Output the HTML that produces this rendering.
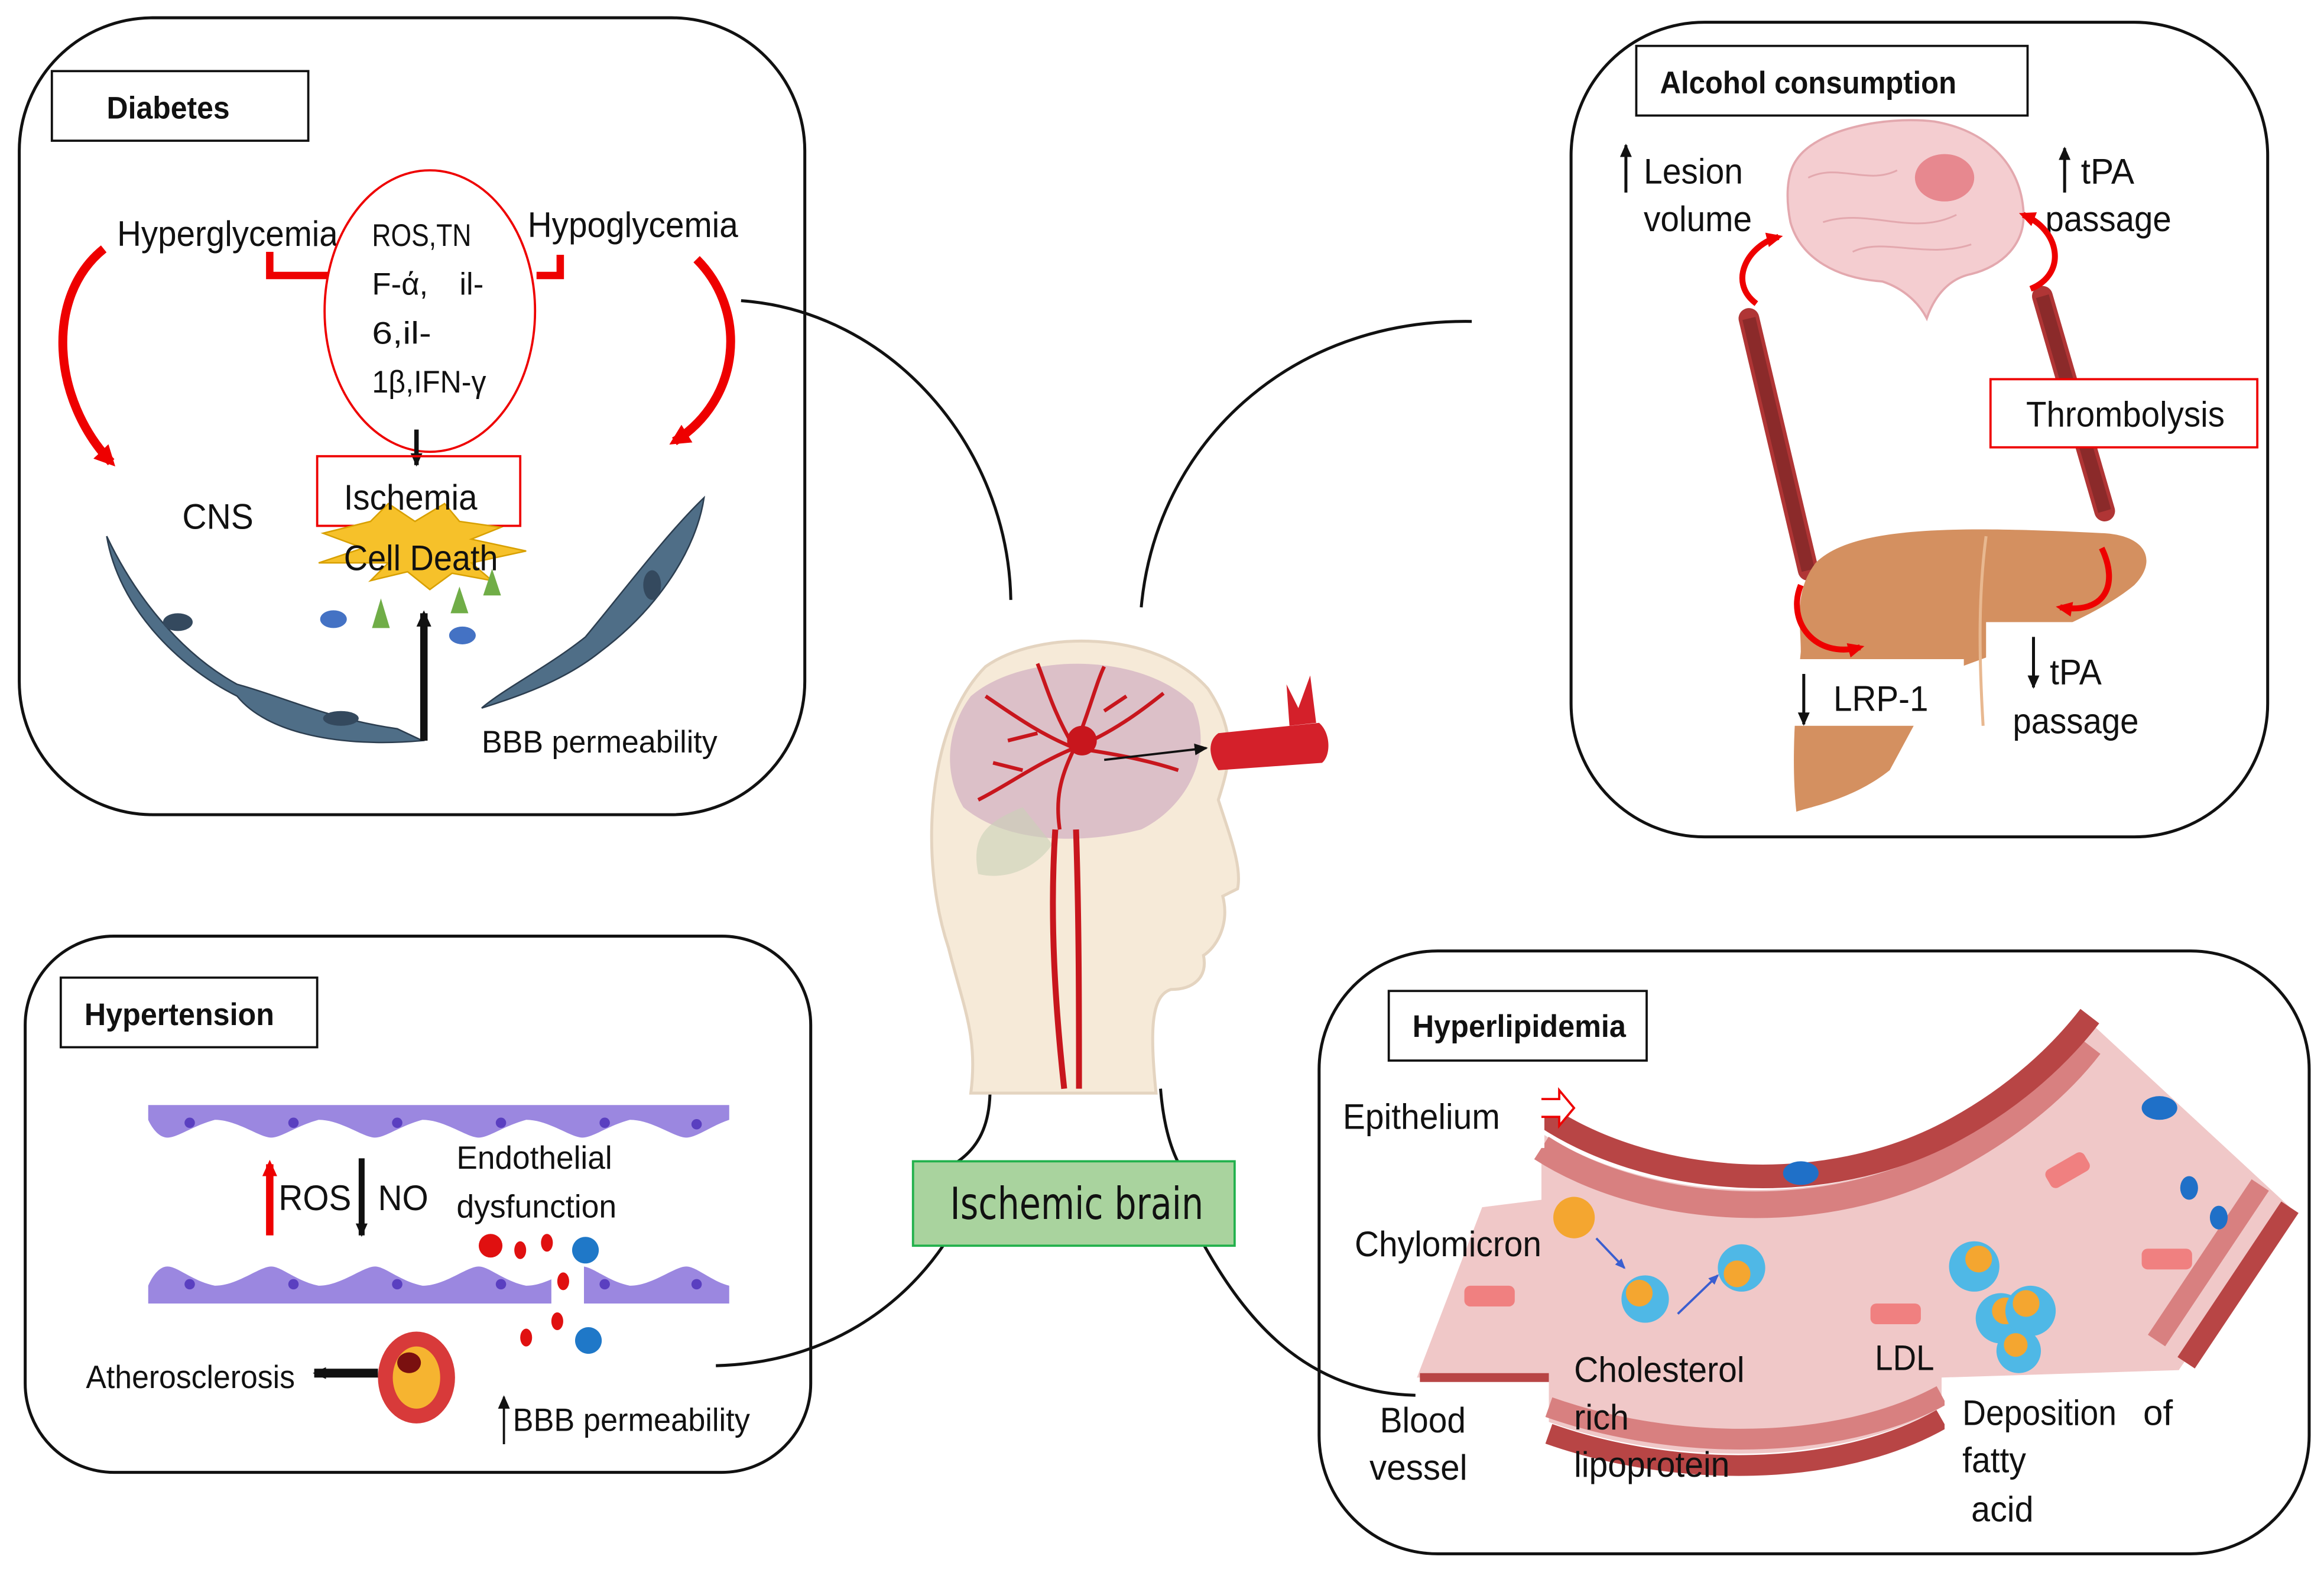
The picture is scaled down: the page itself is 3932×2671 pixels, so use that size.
<!DOCTYPE html>
<html><head><meta charset="utf-8"><style>
html,body{margin:0;padding:0;background:#fff}
svg{display:block}
text{font-family:"Liberation Sans",sans-serif;fill:#111}
.b{font-weight:bold}
</style></head><body>
<svg width="3932" height="2671" viewBox="0 0 1568 1066" preserveAspectRatio="none" xmlns="http://www.w3.org/2000/svg">
<defs>
<marker id="ah" markerUnits="userSpaceOnUse" markerWidth="10" markerHeight="10" refX="8" refY="5" orient="auto"><path d="M0,1 L9,5 L0,9z" fill="#111"/></marker>
<marker id="ahL" markerUnits="userSpaceOnUse" markerWidth="12" markerHeight="12" refX="9" refY="6" orient="auto"><path d="M0,1 L11,6 L0,11z" fill="#111"/></marker>
<marker id="rh" markerUnits="userSpaceOnUse" markerWidth="16" markerHeight="16" refX="10" refY="8" orient="auto"><path d="M0,1 L14,8 L0,15z" fill="#e00"/></marker>
<marker id="rs" markerUnits="userSpaceOnUse" markerWidth="12" markerHeight="12" refX="8" refY="6" orient="auto"><path d="M0,1 L11,6 L0,11z" fill="#e00"/></marker>
<marker id="bh" markerUnits="userSpaceOnUse" markerWidth="8" markerHeight="8" refX="6" refY="4" orient="auto"><path d="M0,1 L7,4 L0,7z" fill="#3a5ed0"/></marker>
</defs>

<!-- connectors -->
<g fill="none" stroke="#111" stroke-width="2">
<path d="M500,203 C600,210 680,300 682,405"/>
<path d="M770,410 C780,300 870,215 993,217"/>
<path d="M668,735 C668,760 660,775 645,785"/>
<path d="M783,735 C785,760 790,775 795,785"/>
<path d="M483,922 C560,920 610,880 637,840"/>
<path d="M812,840 C840,890 880,940 955,942"/>
</g>

<!-- panels -->
<g fill="none" stroke="#111" stroke-width="2">
<rect x="13" y="12" width="530" height="538" rx="90"/>
<rect x="1060" y="15" width="470" height="550" rx="90"/>
<rect x="17" y="632" width="530" height="362" rx="60"/>
<rect x="890" y="642" width="668" height="407" rx="80"/>
</g>

<!-- ===== Diabetes ===== -->
<rect x="35" y="48" width="173" height="47" fill="#fff" stroke="#111" stroke-width="1.5"/>
<text x="72" y="80" class="b" font-size="21" textLength="83" lengthAdjust="spacingAndGlyphs">Diabetes</text>
<text x="79" y="166" font-size="24" textLength="149" lengthAdjust="spacingAndGlyphs">Hyperglycemia</text>
<text x="356" y="160" font-size="24" textLength="142" lengthAdjust="spacingAndGlyphs">Hypoglycemia</text>
<path d="M182,170 L182,186 L222,186" fill="none" stroke="#e00" stroke-width="5"/>
<path d="M378,172 L378,186 L362,186" fill="none" stroke="#e00" stroke-width="5"/>
<ellipse cx="290" cy="210" rx="71" ry="95" fill="#fff" stroke="#e00" stroke-width="1.5"/>
<text x="251" y="166" font-size="21" textLength="67" lengthAdjust="spacingAndGlyphs">ROS,TN</text>
<text x="251" y="199" font-size="21">F-ά,</text>
<text x="310" y="199" font-size="21">il-</text>
<text x="251" y="232" font-size="21" textLength="40" lengthAdjust="spacingAndGlyphs">6,il-</text>
<text x="251" y="265" font-size="21" textLength="77" lengthAdjust="spacingAndGlyphs">1β,IFN-γ</text>
<path d="M70,168 C30,200 35,270 75,312" fill="none" stroke="#e00" stroke-width="6" marker-end="url(#rh)"/>
<path d="M470,175 C505,210 500,270 455,298" fill="none" stroke="#e00" stroke-width="6" marker-end="url(#rh)"/>
<line x1="281" y1="290" x2="281" y2="314" stroke="#111" stroke-width="3" marker-end="url(#ah)"/>
<!-- endothelial cells -->
<path d="M72,362 C90,400 120,440 160,462 C190,470 220,485 268,492 L285,500 C230,505 180,495 160,470 C120,450 80,410 72,362z" fill="#4f6e87" stroke="#2c3e50" stroke-width="1"/>
<path d="M475,336 C470,370 445,410 405,440 C380,460 350,470 325,478 C340,465 370,450 395,430 C420,400 450,360 475,336z" fill="#4f6e87" stroke="#2c3e50" stroke-width="1"/>
<ellipse cx="120" cy="420" rx="10" ry="6" fill="#34495e"/>
<ellipse cx="230" cy="485" rx="12" ry="5" fill="#34495e"/>
<ellipse cx="440" cy="395" rx="6" ry="10" fill="#34495e"/>
<text x="123" y="357" font-size="24" textLength="48" lengthAdjust="spacingAndGlyphs">CNS</text>
<rect x="214" y="308" width="137" height="47" fill="none" stroke="#e00" stroke-width="1.5"/>
<path d="M218,360 L250,352 L262,340 L280,352 L300,340 L310,352 L338,356 L318,364 L355,372 L318,380 L332,392 L305,387 L290,398 L275,386 L250,392 L262,380 L215,380 L245,370z" fill="#f6c12a" stroke="#d8a000" stroke-width="1"/>
<text x="232" y="344" font-size="24" textLength="90" lengthAdjust="spacingAndGlyphs">Ischemia</text>
<text x="232" y="385" font-size="24" textLength="104" lengthAdjust="spacingAndGlyphs">Cell Death</text>
<ellipse cx="225" cy="418" rx="9" ry="6" fill="#4472c4"/>
<ellipse cx="312" cy="429" rx="9" ry="6" fill="#4472c4"/>
<path d="M251,424 L257,404 L263,424z" fill="#70ad47"/>
<path d="M304,414 L310,396 L316,414z" fill="#70ad47"/>
<path d="M326,402 L332,384 L338,402z" fill="#70ad47"/>
<line x1="286" y1="500" x2="286" y2="414" stroke="#111" stroke-width="5" marker-end="url(#ahL)"/>
<text x="325" y="508" font-size="21" textLength="159" lengthAdjust="spacingAndGlyphs">BBB permeability</text>

<!-- ===== Alcohol ===== -->
<rect x="1104" y="31" width="264" height="47" fill="#fff" stroke="#111" stroke-width="1.5"/>
<text x="1120" y="63" class="b" font-size="21" textLength="200" lengthAdjust="spacingAndGlyphs">Alcohol consumption</text>
<line x1="1097" y1="130" x2="1097" y2="98" stroke="#111" stroke-width="2" marker-end="url(#ah)"/>
<text x="1109" y="124" font-size="24" textLength="67" lengthAdjust="spacingAndGlyphs">Lesion</text>
<text x="1109" y="156" font-size="24" textLength="73" lengthAdjust="spacingAndGlyphs">volume</text>
<line x1="1393" y1="130" x2="1393" y2="100" stroke="#111" stroke-width="2" marker-end="url(#ah)"/>
<text x="1404" y="124" font-size="24" textLength="36" lengthAdjust="spacingAndGlyphs">tPA</text>
<text x="1380" y="156" font-size="24" textLength="85" lengthAdjust="spacingAndGlyphs">passage</text>
<!-- brain -->
<path d="M1212,108 C1225,88 1270,78 1305,82 C1340,88 1362,110 1365,140 C1368,165 1350,180 1330,185 C1315,188 1305,200 1300,215 C1295,205 1285,195 1270,190 C1240,188 1215,175 1208,150 C1205,135 1205,118 1212,108z" fill="#f4cdd0" stroke="#e3a8ae" stroke-width="1.5"/>
<path d="M1220,120 C1240,110 1260,125 1280,115 M1230,150 C1260,140 1290,160 1320,145 M1250,170 C1270,160 1300,175 1330,165" fill="none" stroke="#e3a8ae" stroke-width="1.2"/>
<ellipse cx="1312" cy="120" rx="20" ry="16" fill="#d9444e" opacity="0.5"/>
<!-- vessels -->
<path d="M1180,215 L1220,385" stroke="#b03535" stroke-width="14" stroke-linecap="round"/>
<path d="M1180,215 L1220,385" stroke="#8b2a2a" stroke-width="9"/>
<path d="M1378,200 L1420,345" stroke="#b03535" stroke-width="14" stroke-linecap="round"/>
<path d="M1378,200 L1420,345" stroke="#8b2a2a" stroke-width="9"/>
<path d="M1185,205 C1165,190 1180,165 1200,160" fill="none" stroke="#e00" stroke-width="4" marker-end="url(#rs)"/>
<path d="M1370,195 C1395,185 1390,155 1365,145" fill="none" stroke="#e00" stroke-width="4" marker-end="url(#rs)"/>
<!-- liver -->
<path d="M1225,380 C1250,355 1320,355 1420,360 C1450,362 1455,380 1440,395 C1410,420 1350,440 1310,455 L1275,520 C1250,540 1220,545 1212,548 C1208,510 1212,470 1215,440 C1215,420 1210,400 1225,380z" fill="#d49060"/>
<path d="M1340,362 C1335,400 1335,440 1338,490" fill="none" stroke="#e8b890" stroke-width="2"/>
<rect x="1200" y="445" width="125" height="45" fill="#fff"/>
<rect x="1340" y="420" width="120" height="85" fill="#fff"/>
<path d="M1215,395 C1205,420 1225,445 1255,437" fill="none" stroke="#e00" stroke-width="4" marker-end="url(#rs)"/>
<path d="M1418,370 C1430,395 1420,415 1390,410" fill="none" stroke="#e00" stroke-width="4" marker-end="url(#rs)"/>
<rect x="1343" y="256" width="180" height="46" fill="#fff" stroke="#e00" stroke-width="1.5"/>
<text x="1367" y="288" font-size="24" textLength="134" lengthAdjust="spacingAndGlyphs">Thrombolysis</text>
<line x1="1217" y1="455" x2="1217" y2="489" stroke="#111" stroke-width="2" marker-end="url(#ah)"/>
<text x="1237" y="480" font-size="24" textLength="64" lengthAdjust="spacingAndGlyphs">LRP-1</text>
<line x1="1372" y1="430" x2="1372" y2="464" stroke="#111" stroke-width="2" marker-end="url(#ah)"/>
<text x="1383" y="462" font-size="24" textLength="35" lengthAdjust="spacingAndGlyphs">tPA</text>
<text x="1358" y="495" font-size="24" textLength="85" lengthAdjust="spacingAndGlyphs">passage</text>

<!-- ===== Center head ===== -->
<path d="M665,450 C700,425 780,425 815,465 C835,495 830,515 822,540 C830,565 838,585 835,600 L825,605 C830,625 820,640 812,645 C815,660 805,668 790,668 C778,672 775,690 780,738 L655,738 C660,700 650,680 640,640 C620,580 625,490 665,450z" fill="#f6ead8" stroke="#e4d4c0" stroke-width="2"/>
<path d="M655,470 C690,440 770,440 805,475 C820,510 800,545 770,560 C730,570 680,570 650,545 C635,520 640,490 655,470z" fill="#dcc0c8"/>
<path d="M690,545 C665,555 655,565 660,590 C680,595 700,585 710,570z" fill="#c9d0b8" opacity="0.6"/>
<g stroke="#c8161d" stroke-width="2.5" fill="none">
<path d="M725,505 C700,495 680,480 665,470 M725,505 C710,480 705,460 700,448 M725,505 C735,480 740,460 745,450 M725,505 C750,495 770,480 785,468 M725,505 C760,510 780,515 795,520 M725,505 C700,515 680,530 660,540 M725,505 C715,525 712,540 715,560 M700,495 L680,500 M745,480 L760,470 M690,520 L670,515"/>
</g>
<path d="M712,560 C708,620 712,680 718,735 M726,560 C728,620 728,680 728,735" stroke="#c8161d" stroke-width="4" fill="none"/>
<circle cx="730" cy="500" r="10" fill="#c8161d"/>
<path d="M822,495 L890,488 C898,495 898,510 892,515 L822,520 C815,510 815,500 822,495z" fill="#d4202a"/>
<path d="M870,490 L868,462 L876,478 L884,456 L888,488z" fill="#d4202a"/>
<line x1="745" y1="513" x2="814" y2="505" stroke="#111" stroke-width="1.5" marker-end="url(#ah)"/>
<rect x="616" y="784" width="217" height="57" fill="#a9d39e" stroke="#22b14c" stroke-width="1.5"/>
<text x="641" y="823" font-size="30" textLength="171" lengthAdjust="spacingAndGlyphs" style="font-family:'DejaVu Sans','Liberation Sans',sans-serif">Ischemic brain</text>

<!-- ===== Hypertension ===== -->
<rect x="41" y="660" width="173" height="47" fill="#fff" stroke="#111" stroke-width="1.5"/>
<text x="57" y="692" class="b" font-size="21" textLength="128" lengthAdjust="spacingAndGlyphs">Hypertension</text>
<path d="M100,746 L492,746 L492,756 C480,760 470,768 463,768 C455,768 440,756 425,756 C410,760 400,768 393,768 C385,768 370,756 355,756 C340,760 330,768 323,768 C315,768 300,756 285,756 C270,760 260,768 253,768 C245,768 230,756 215,756 C200,760 190,768 183,768 C175,768 160,756 145,756 C130,760 120,768 113,768 C105,768 100,756 100,756z" fill="#9b87e0"/>
<path d="M100,880 L492,880 L492,868 C480,865 470,855 463,855 C455,855 440,868 425,868 C410,865 400,855 393,855 C385,855 370,868 355,868 C340,865 330,855 323,855 C315,855 300,868 285,868 C270,865 260,855 253,855 C245,855 230,868 215,868 C200,865 190,855 183,855 C175,855 160,868 145,868 C130,865 120,855 113,855 C105,855 100,868 100,868z" fill="#9b87e0"/>
<g fill="#5a3fc0"><circle cx="128" cy="758" r="3.5"/><circle cx="198" cy="758" r="3.5"/><circle cx="268" cy="758" r="3.5"/><circle cx="338" cy="758" r="3.5"/><circle cx="408" cy="758" r="3.5"/><circle cx="470" cy="759" r="3.5"/>
<circle cx="128" cy="867" r="3.5"/><circle cx="198" cy="867" r="3.5"/><circle cx="268" cy="867" r="3.5"/><circle cx="338" cy="867" r="3.5"/><circle cx="408" cy="867" r="3.5"/><circle cx="470" cy="867" r="3.5"/></g>
<rect x="372" y="855" width="22" height="30" fill="#fff"/>
<line x1="182" y1="834" x2="182" y2="786" stroke="#e00" stroke-width="5" marker-end="url(#rs)"/>
<line x1="244" y1="782" x2="244" y2="834" stroke="#111" stroke-width="4" marker-end="url(#ah)"/>
<text x="188" y="817" font-size="24" textLength="49" lengthAdjust="spacingAndGlyphs">ROS</text>
<text x="255" y="817" font-size="24" textLength="34" lengthAdjust="spacingAndGlyphs">NO</text>
<text x="308" y="789" font-size="22" textLength="105" lengthAdjust="spacingAndGlyphs">Endothelial</text>
<text x="308" y="822" font-size="22" textLength="108" lengthAdjust="spacingAndGlyphs">dysfunction</text>
<circle cx="331" cy="841" r="8" fill="#e01010"/>
<ellipse cx="351" cy="844" rx="4" ry="6" fill="#e01010"/>
<ellipse cx="369" cy="839" rx="4" ry="6" fill="#e01010"/>
<circle cx="395" cy="844" r="9" fill="#1f78c8"/>
<ellipse cx="380" cy="865" rx="4" ry="6" fill="#e01010"/>
<ellipse cx="376" cy="892" rx="4" ry="6" fill="#e01010"/>
<ellipse cx="355" cy="903" rx="4" ry="6" fill="#e01010"/>
<circle cx="397" cy="905" r="9" fill="#1f78c8"/>
<ellipse cx="281" cy="930" rx="26" ry="31" fill="#d83a3a"/>
<ellipse cx="281" cy="930" rx="16" ry="21" fill="#f6b430"/>
<ellipse cx="276" cy="920" rx="8" ry="7" fill="#7a1010"/>
<line x1="255" y1="927" x2="212" y2="927" stroke="#111" stroke-width="6" marker-end="url(#ah)"/>
<text x="58" y="937" font-size="22" textLength="141" lengthAdjust="spacingAndGlyphs">Atherosclerosis</text>
<line x1="340" y1="975" x2="340" y2="943" stroke="#111" stroke-width="1.5" marker-end="url(#ah)"/>
<text x="346" y="966" font-size="22" textLength="160" lengthAdjust="spacingAndGlyphs">BBB permeability</text>

<!-- ===== Hyperlipidemia ===== -->
<rect x="937" y="669" width="174" height="47" fill="#fff" stroke="#111" stroke-width="1.5"/>
<text x="953" y="700" class="b" font-size="21" textLength="144" lengthAdjust="spacingAndGlyphs">Hyperlipidemia</text>
<path d="M1040,765 C1110,810 1230,820 1320,770 C1360,745 1390,720 1410,690 L1545,815 L1470,925 L1310,930 L1310,950 C1240,990 1130,990 1045,960 L1045,930 L956,930 L1000,815 L1040,810z" fill="#f0c8c8"/>
<path d="M1040,775 C1110,820 1230,830 1320,780 C1360,758 1390,732 1410,706" fill="none" stroke="#d88080" stroke-width="18"/>
<path d="M1040,752 C1110,800 1230,812 1320,762 C1360,740 1390,712 1410,686" fill="none" stroke="#b84545" stroke-width="16"/>
<path d="M1525,800 L1455,905" stroke="#d88080" stroke-width="14"/>
<path d="M1545,815 L1475,920" stroke="#b84545" stroke-width="14"/>
<path d="M1045,950 C1130,980 1240,980 1310,942" fill="none" stroke="#d88080" stroke-width="14"/>
<path d="M1045,968 C1130,998 1240,998 1310,958" fill="none" stroke="#b84545" stroke-width="14"/>
<path d="M958,930 L1045,930" stroke="#b84545" stroke-width="6"/>
<rect x="1018" y="735" width="24" height="40" fill="#fff"/>
<path d="M1040,742 L1052,742 L1052,736 L1062,748 L1052,760 L1052,754 L1040,754" fill="#fff" stroke="#e00" stroke-width="1.5"/>
<text x="906" y="762" font-size="24" textLength="106" lengthAdjust="spacingAndGlyphs">Epithelium</text>
<text x="914" y="848" font-size="24" textLength="126" lengthAdjust="spacingAndGlyphs">Chylomicron</text>
<circle cx="1062" cy="822" r="14" fill="#f4a630"/>
<circle cx="1110" cy="877" r="16" fill="#4fb8e6"/><circle cx="1106" cy="873" r="9" fill="#f4a630"/>
<circle cx="1175" cy="856" r="16" fill="#4fb8e6"/><circle cx="1172" cy="860" r="9" fill="#f4a630"/>
<circle cx="1332" cy="855" r="17" fill="#4fb8e6"/><circle cx="1335" cy="850" r="9" fill="#f4a630"/>
<circle cx="1350" cy="890" r="17" fill="#4fb8e6"/><circle cx="1353" cy="885" r="9" fill="#f4a630"/>
<circle cx="1370" cy="885" r="17" fill="#4fb8e6"/><circle cx="1367" cy="880" r="9" fill="#f4a630"/>
<circle cx="1362" cy="912" r="15" fill="#4fb8e6"/><circle cx="1360" cy="908" r="8" fill="#f4a630"/>
<line x1="1077" y1="836" x2="1096" y2="856" stroke="#3a5ed0" stroke-width="1.5" marker-end="url(#bh)"/>
<line x1="1132" y1="887" x2="1159" y2="861" stroke="#3a5ed0" stroke-width="1.5" marker-end="url(#bh)"/>
<ellipse cx="1215" cy="792" rx="12" ry="8" fill="#1f70c8"/>
<ellipse cx="1457" cy="748" rx="12" ry="8" fill="#1f70c8"/>
<ellipse cx="1477" cy="802" rx="6" ry="8" fill="#1f70c8"/>
<ellipse cx="1497" cy="822" rx="6" ry="8" fill="#1f70c8"/>
<rect x="988" y="868" width="34" height="14" rx="4" fill="#f08080"/>
<rect x="1262" y="880" width="34" height="14" rx="4" fill="#f08080"/>
<rect x="1445" y="843" width="34" height="14" rx="4" fill="#f08080"/>
<rect x="1380" y="783" width="30" height="14" rx="4" fill="#f08080" transform="rotate(-30 1395 790)"/>
<text x="931" y="967" font-size="24" textLength="58" lengthAdjust="spacingAndGlyphs">Blood</text>
<text x="924" y="999" font-size="24" textLength="66" lengthAdjust="spacingAndGlyphs">vessel</text>
<text x="1062" y="933" font-size="24" textLength="115" lengthAdjust="spacingAndGlyphs">Cholesterol</text>
<text x="1062" y="965" font-size="24" textLength="37" lengthAdjust="spacingAndGlyphs">rich</text>
<text x="1062" y="997" font-size="24" textLength="105" lengthAdjust="spacingAndGlyphs">lipoprotein</text>
<text x="1265" y="925" font-size="24" textLength="40" lengthAdjust="spacingAndGlyphs">LDL</text>
<rect x="1312" y="930" width="200" height="110" fill="#fff"/>
<text x="1324" y="962" font-size="24" textLength="104" lengthAdjust="spacingAndGlyphs">Deposition</text>
<text x="1446" y="962" font-size="24" textLength="20" lengthAdjust="spacingAndGlyphs">of</text>
<text x="1324" y="994" font-size="24" textLength="43" lengthAdjust="spacingAndGlyphs">fatty</text>
<text x="1330" y="1027" font-size="24" textLength="42" lengthAdjust="spacingAndGlyphs">acid</text>
</svg>
</body></html>
